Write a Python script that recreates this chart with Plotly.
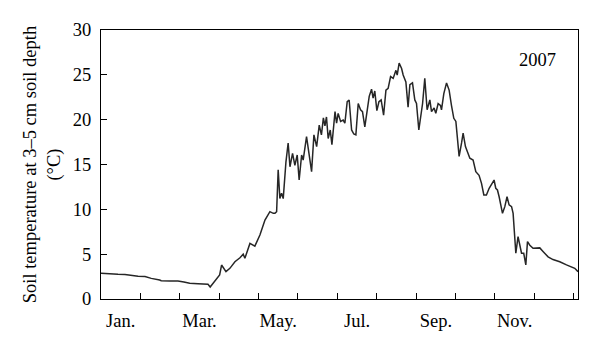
import plotly.graph_objects as go

# Day of year (0 = Jan 1) and soil temperature (°C)
days = [0, 6.9, 13.1, 18.5, 23.2, 28.6, 34, 38.8, 45.3, 46.5, 53.2, 59.4, 64, 68.5, 74.9,
        82.6, 84.3, 87.7, 91.6, 93.1, 95.5, 96.5, 99.5, 103.4, 107.3, 109.8, 111.1, 115,
        118.8, 122.7, 126.6, 130.4, 133, 134.3, 135.6, 136.8, 138.1, 139.4, 140.7, 142.8,
        144.5, 145.9, 147.9, 149.7, 151.5, 153, 154.9, 156.1, 158.7, 160.7, 162.6, 164.4,
        166.5, 168.5, 170.2, 171.7, 172.9, 174.1, 175.4, 177, 178.3, 180.7, 181.9, 183.1,
        185, 187, 188.3, 190.1, 191.6, 193.5, 195.2, 196.8, 198.6, 200.4, 201.9, 203.7,
        205, 207.1, 208.9, 210.1, 211.4, 213, 214.6, 216.3, 218.2, 220, 221.7, 223.6, 225.6,
        227.7, 228.7, 230.2, 232.1, 233.3, 235.4, 237.1, 238.5, 240.5, 242.3, 243.6, 245.4,
        246.7, 248.3, 250, 251.8, 253.9, 255.2, 257.2, 258.5, 260.3, 262.1, 262.9, 264.7,
        266.8, 268.8, 270.6, 272.4, 274, 275, 276.5, 278.4, 279.6, 281.4, 283.4, 284.8,
        287.3, 289.4, 291.9, 293.8, 295.6, 297.6, 299.7, 302.3, 303.5, 304.8, 306.1, 307.4,
        310, 311.8, 313.5, 315.1, 317, 318.2, 320.3, 322, 323.3, 324.7, 326.4, 328, 329.3,
        331.1, 333.6, 336.2, 338.8, 341.3, 345.2, 349, 354.2, 359.4, 363.2, 365.8, 368.3]
temps = [2.87, 2.85, 2.75, 2.72, 2.62, 2.53, 2.5, 2.3, 2.12, 2.04, 2.02, 2.0, 1.9, 1.75, 1.7,
         1.64, 1.34, 2.0, 2.68, 3.79, 3.23, 3.05, 3.42, 4.16, 4.6, 5.0, 4.54, 6.2,
         5.9, 7.14, 8.8, 9.74, 9.55, 9.55, 9.74, 14.4, 11.2, 11.8, 11.2, 15.3,
         17.4, 14.75, 16.25, 14.9, 16.06, 13.27, 16.06, 15.5, 18.1, 16.25, 14.2, 18.3,
         17.0, 19.4, 18.3, 20.2, 19.3, 20.3, 17.9, 18.85, 17.2, 20.9, 19.6, 20.7,
         19.8, 19.96, 19.6, 22.0, 22.2, 18.85, 18.4, 18.3, 21.8, 21.1, 20.9, 19.2,
         20.7, 22.6, 23.4, 22.4, 23.2, 21.0, 22.0, 22.2, 20.5, 23.3, 23.5, 24.8, 24.6,
         25.5, 24.98, 26.3, 25.7, 24.98, 24.2, 21.4, 23.9, 24.1, 22.2, 21.8, 18.85,
         20.15, 21.8, 24.6, 21.1, 22.2, 20.9, 21.3, 20.7, 21.8, 21.6, 21.1, 22.9,
         24.1, 23.3, 21.6, 20.15, 19.8, 18.1, 15.9, 17.4, 18.5, 17.0, 16.25, 15.7,
         15.5, 14.2, 13.8, 12.9, 11.6, 11.6, 12.35, 12.9, 13.27, 12.35, 12.16, 11.4,
         9.55, 10.3, 11.4, 10.5, 10.3, 9.55, 5.1, 6.95, 6.2, 5.1, 5.1, 3.8, 6.4,
         6.0, 5.65, 5.65, 5.7, 5.3, 4.7, 4.4, 4.16, 3.8, 3.6, 3.42, 3.05]

month_len = 365 / 12
month_bounds = [round(i * month_len, 2) for i in range(13)]
month_labels = ["Jan.", "Mar.", "May.", "Jul.", "Sep.", "Nov."]
label_pos = [round((2 * i + 0.5) * month_len, 2) for i in range(6)]
y_ticks = [0, 5, 10, 15, 20, 25, 30]

FONT = "Liberation Serif"
FS = 18.5

fig = go.Figure()
fig.add_trace(go.Scatter(x=days, y=temps, mode="lines",
                         line=dict(color="#262626", width=1.5),
                         showlegend=False, hoverinfo="skip"))
# invisible trace to activate the label axis
fig.add_trace(go.Scatter(x=[0], y=[0], xaxis="x2", mode="markers",
                         marker=dict(opacity=0), showlegend=False, hoverinfo="skip"))

fig.update_layout(
    width=600, height=353,
    margin=dict(l=101, r=22, t=30, b=54),
    paper_bgcolor="white", plot_bgcolor="white",
    font=dict(family=FONT, size=FS, color="black"),
    xaxis=dict(range=[0, 368.3], tickvals=month_bounds, showticklabels=False,
               ticks="inside", ticklen=6, tickcolor="black", tickwidth=1,
               showline=True, linecolor="black", linewidth=1, mirror=True,
               showgrid=False, zeroline=False),
    xaxis2=dict(overlaying="x", matches="x", side="bottom", tickvals=label_pos,
                ticktext=month_labels, ticks="", showline=False, showgrid=False,
                zeroline=False, ticklabelstandoff=8,
                tickfont=dict(family=FONT, size=FS, color="black")),
    yaxis=dict(range=[0, 30], tickvals=y_ticks, ticks="inside", ticklen=6,
               tickcolor="black", tickwidth=1,
               showline=True, linecolor="black", linewidth=1, mirror=True,
               showgrid=False, zeroline=False, ticklabelstandoff=5,
               tickfont=dict(family=FONT, size=FS, color="black"),
               title=dict(text="Soil temperature at 3–5 cm soil depth<br>(°C)",
                          font=dict(family=FONT, size=FS, color="black"),
                          standoff=7)),
    annotations=[dict(text="2007", x=0.916, y=0.888, xref="paper", yref="paper",
                      xanchor="center", yanchor="middle", showarrow=False,
                      font=dict(family=FONT, size=FS, color="black"))],
)

fig.write_html("out.html")
